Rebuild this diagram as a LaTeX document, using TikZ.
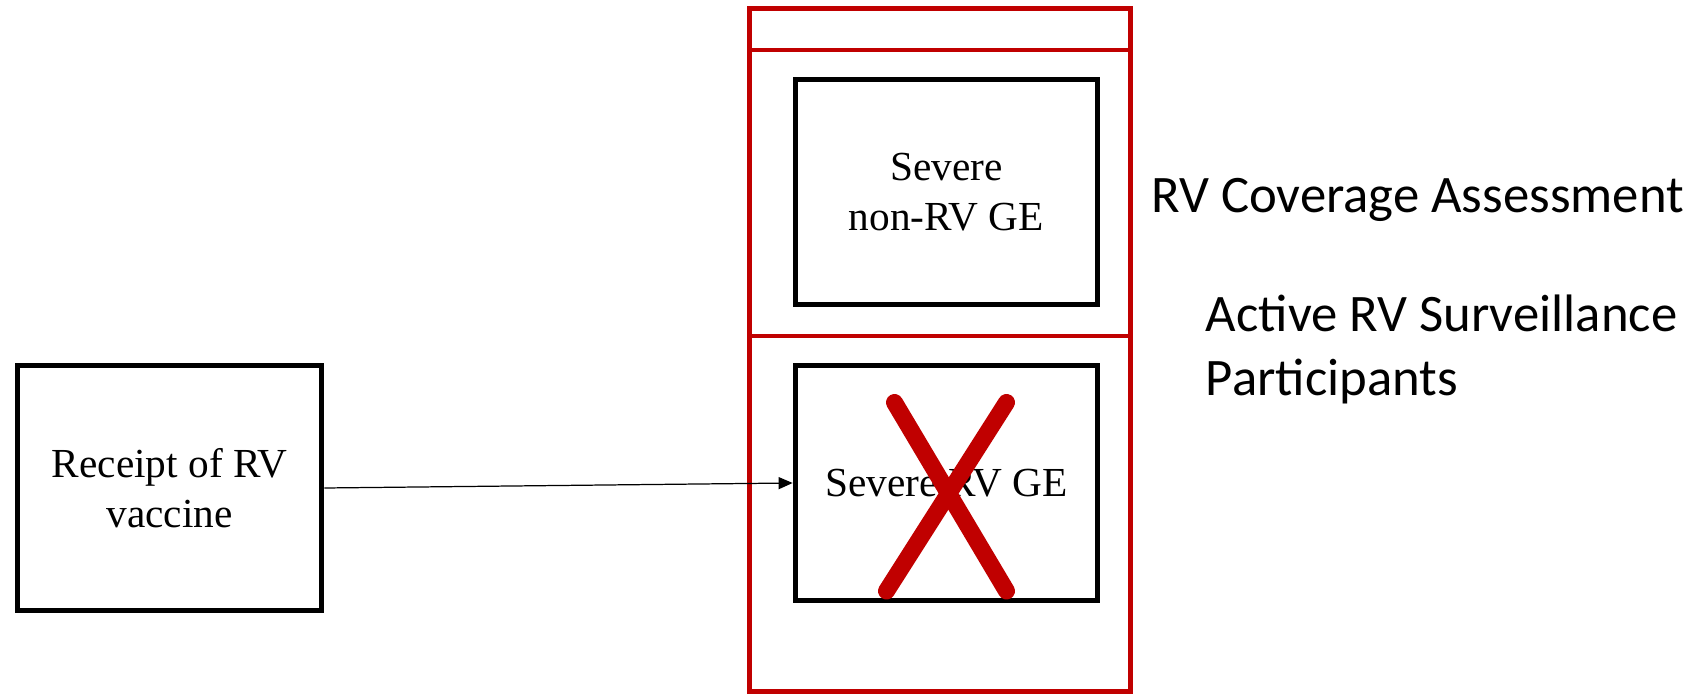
\documentclass[tikz,border=0pt]{standalone}
\usepackage{fontspec}
\setmainfont{Liberation Serif}
\newfontfamily\calfont{Carlito}
\usepackage{tikz}
\usetikzlibrary{arrows.meta,calc}
\usetikzlibrary{positioning}
\definecolor{rvred}{HTML}{C00000}
\tikzset{evbox/.style={draw,line width=3pt,align=center,inner sep=0pt,font=\fontsize{23.5}{28.5}\selectfont},
  grpbox/.style={draw=rvred,line width=2.6pt},
  grplbl/.style={inner sep=0pt,align=left,font=\calfont\fontsize{30}{36.4}\selectfont}}

\begin{document}
\begin{tikzpicture}[>=Stealth,line join=miter]
\useasboundingbox (0,0) rectangle (34.12,13.88);
% --- red groups: coverage assessment and surveillance participants
\draw[grpbox] (14.99,13.71) rectangle (22.61,7.16);
\draw[grpbox] (14.99,12.88) rectangle (22.61,0.05);
% --- outcome and exposure boxes
\node[evbox,minimum width=6.05cm,minimum height=4.5cm] (nonrv) at (18.93,10.04) {Severe\\non-RV GE};
\node[evbox,minimum width=6.05cm,minimum height=4.7cm] (sevrv) at (18.93,4.22) {Severe RV GE};
\node[evbox,minimum width=6.09cm,minimum height=4.9cm] (recv) at (3.39,4.12) {Receipt of RV\\vaccine};
\draw[-{Triangle[length=0.28cm,width=0.24cm]},line width=0.7pt] (recv.east) -- (sevrv.west);
% --- crossed out
\draw[rvred,line width=0.34cm,line cap=round] (17.89,5.83) -- (20.13,2.06);
\draw[rvred,line width=0.34cm,line cap=round] (20.13,5.83) -- (17.73,2.06);
% --- labels
\node[grplbl,anchor=base west] (covlbl) at (23.02,9.62) {RV Coverage Assessment};
\node[grplbl,anchor=west] (actlbl) at (24.11,6.90) {Active RV Surveillance\\Participants};
\end{tikzpicture}
\end{document}
